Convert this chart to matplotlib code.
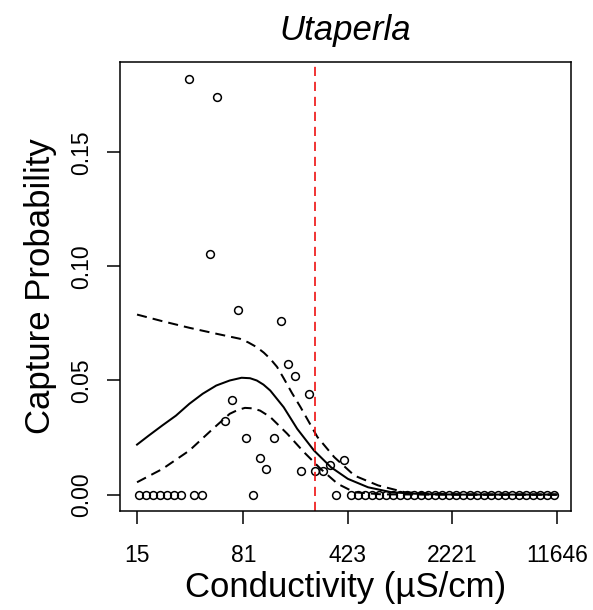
import numpy as np
import matplotlib
matplotlib.use("Agg")
import matplotlib.pyplot as plt

plt.rcParams['font.family'] = ['Liberation Sans', 'DejaVu Sans']

# ---- data ----
x_ticks = [15, 81, 423, 2221, 11646]
y_ticks = [0.00, 0.05, 0.10, 0.15]

# observed capture probabilities (binned sites)
obs_x = [15.4, 17.2, 19.3, 21.6, 24.2, 27.0, 30.2, 37.2, 41.8, 94.0, 351,
         34.4, 53.6, 47.9, 74.6, 146.2, 163.6, 182.2, 229.1, 67.4, 60.2,
         83.9, 130.7, 105.1, 116.3, 202.8, 253.9, 285.4, 320.9, 401.4,
         445, 497.6, 556, 621, 694, 776, 867, 969, 1083, 1210, 1352, 1511,
         1689, 1887, 2109, 2357, 2634, 2943, 3289, 3675, 4107, 4590, 5129,
         5732, 6405, 7158, 7999, 8939, 9989, 11163]
obs_y = [0, 0, 0, 0, 0, 0, 0, 0, 0, 0, 0,
         0.1823, 0.1743, 0.1054, 0.0811, 0.0760, 0.0573, 0.0518, 0.0442,
         0.0415, 0.0322, 0.0249, 0.0249, 0.0162, 0.0114, 0.0102, 0.0102,
         0.0102, 0.0130, 0.0152,
         0, 0, 0, 0, 0, 0, 0, 0, 0, 0, 0, 0,
         0, 0, 0, 0, 0, 0, 0, 0, 0, 0, 0,
         0, 0, 0, 0, 0, 0, 0]

# fitted curve
fit_x = [15, 18.1, 22.4, 27.8, 34.4, 42.5, 52.7, 65.2, 78.7, 90.0, 100.2,
         111.3, 124.0, 153.4, 190.2, 248.2, 324.5, 424.2, 584.6, 849.4,
         1373, 2500, 11646]
fit_y = [0.0219, 0.0259, 0.0303, 0.0346, 0.0398, 0.0442, 0.0478, 0.0500,
         0.0512, 0.0510, 0.0500, 0.0482, 0.0456, 0.0383, 0.0288, 0.0193,
         0.0120, 0.0069, 0.0032, 0.0010, 0.0002, 0.0, 0.0]

# upper confidence bound
up_x = [15, 22.4, 34.4, 52.7, 76.6, 87.5, 100.2, 112.0, 124.0, 138.0,
        153.4, 175.0, 200.5, 262.1, 342.1, 471.6, 686.4, 1051, 1892, 3000,
        11646]
up_y = [0.0789, 0.0760, 0.0731, 0.0705, 0.0683, 0.0667, 0.0646, 0.0622,
        0.0595, 0.0560, 0.0510, 0.0445, 0.0383, 0.0252, 0.0164, 0.0083,
        0.0040, 0.0010, 0.0002, 0.0, 0.0]

# lower confidence bound
lo_x = [15, 22.4, 34.4, 49.9, 65.2, 73.6, 83.0, 93.6, 105.6, 124.0, 162.1,
        211.5, 276.4, 361.4, 471.6, 723.7, 1500, 11646]
lo_y = [0.0054, 0.0112, 0.0193, 0.0288, 0.0354, 0.0370, 0.0380, 0.0378,
        0.0368, 0.0340, 0.0267, 0.0186, 0.0112, 0.0047, 0.0010, 0.0001,
        0.0, 0.0]

threshold = 252

# ---- figure ----
W, H = 593, 610
fig = plt.figure(figsize=(W / 100, H / 100), dpi=100)
left_px, right_px, top_px, bot_px = 120, 571, 62, 511
ax = fig.add_axes([left_px / W, 1 - bot_px / H,
                   (right_px - left_px) / W, (bot_px - top_px) / H])

ax.set_xscale('log')
ax.set_xlim(11.45, 14600)
ax.set_ylim(-0.0072, 0.1896)

ax.plot(fit_x, fit_y, color='black', lw=1.45, solid_joinstyle='round')
ax.plot(up_x, up_y, color='black', lw=1.45, linestyle=(0, (5, 3)))
ax.plot(lo_x, lo_y, color='black', lw=1.45, linestyle=(0, (5, 3)))
ax.plot(obs_x, obs_y, linestyle='none', marker='o', ms=5.6,
        mfc='none', mec='black', mew=1.1)
ax.axvline(threshold, color='#ee1111', lw=1.2, linestyle=(0, (5.5, 3.5)))

ax.set_xticks(x_ticks)
ax.set_xticklabels([str(v) for v in x_ticks])
ax.xaxis.set_minor_locator(matplotlib.ticker.NullLocator())
ax.set_yticks(y_ticks)
ax.set_yticklabels(['%.2f' % v for v in y_ticks])

for sp in ax.spines.values():
    sp.set_linewidth(1.1)
ax.tick_params(axis='both', which='major', length=9.4, width=1.1,
               labelsize=16.5, direction='out', color='black')
ax.tick_params(axis='x', pad=14)
ax.tick_params(axis='y', pad=10)
for lab in ax.get_yticklabels():
    lab.set_rotation(90)
    lab.set_verticalalignment('center')
    lab.set_horizontalalignment('right')

ax.set_xlabel('Conductivity (µS/cm)', fontsize=25, va='baseline')
ax.xaxis.set_label_coords(0.5, -(597 - bot_px) / (bot_px - top_px))
ax.set_ylabel('Capture Probability', fontsize=25, va='baseline',
              ha='center', rotation_mode='anchor')
ax.yaxis.set_label_coords(-(left_px - 50) / (right_px - left_px), 0.5)

ax.set_title('Utaperla', fontsize=25, style='italic', pad=0,
             y=1 + (top_px - 40) / (bot_px - top_px), va='baseline')

fig.savefig('out.png', dpi=100)
